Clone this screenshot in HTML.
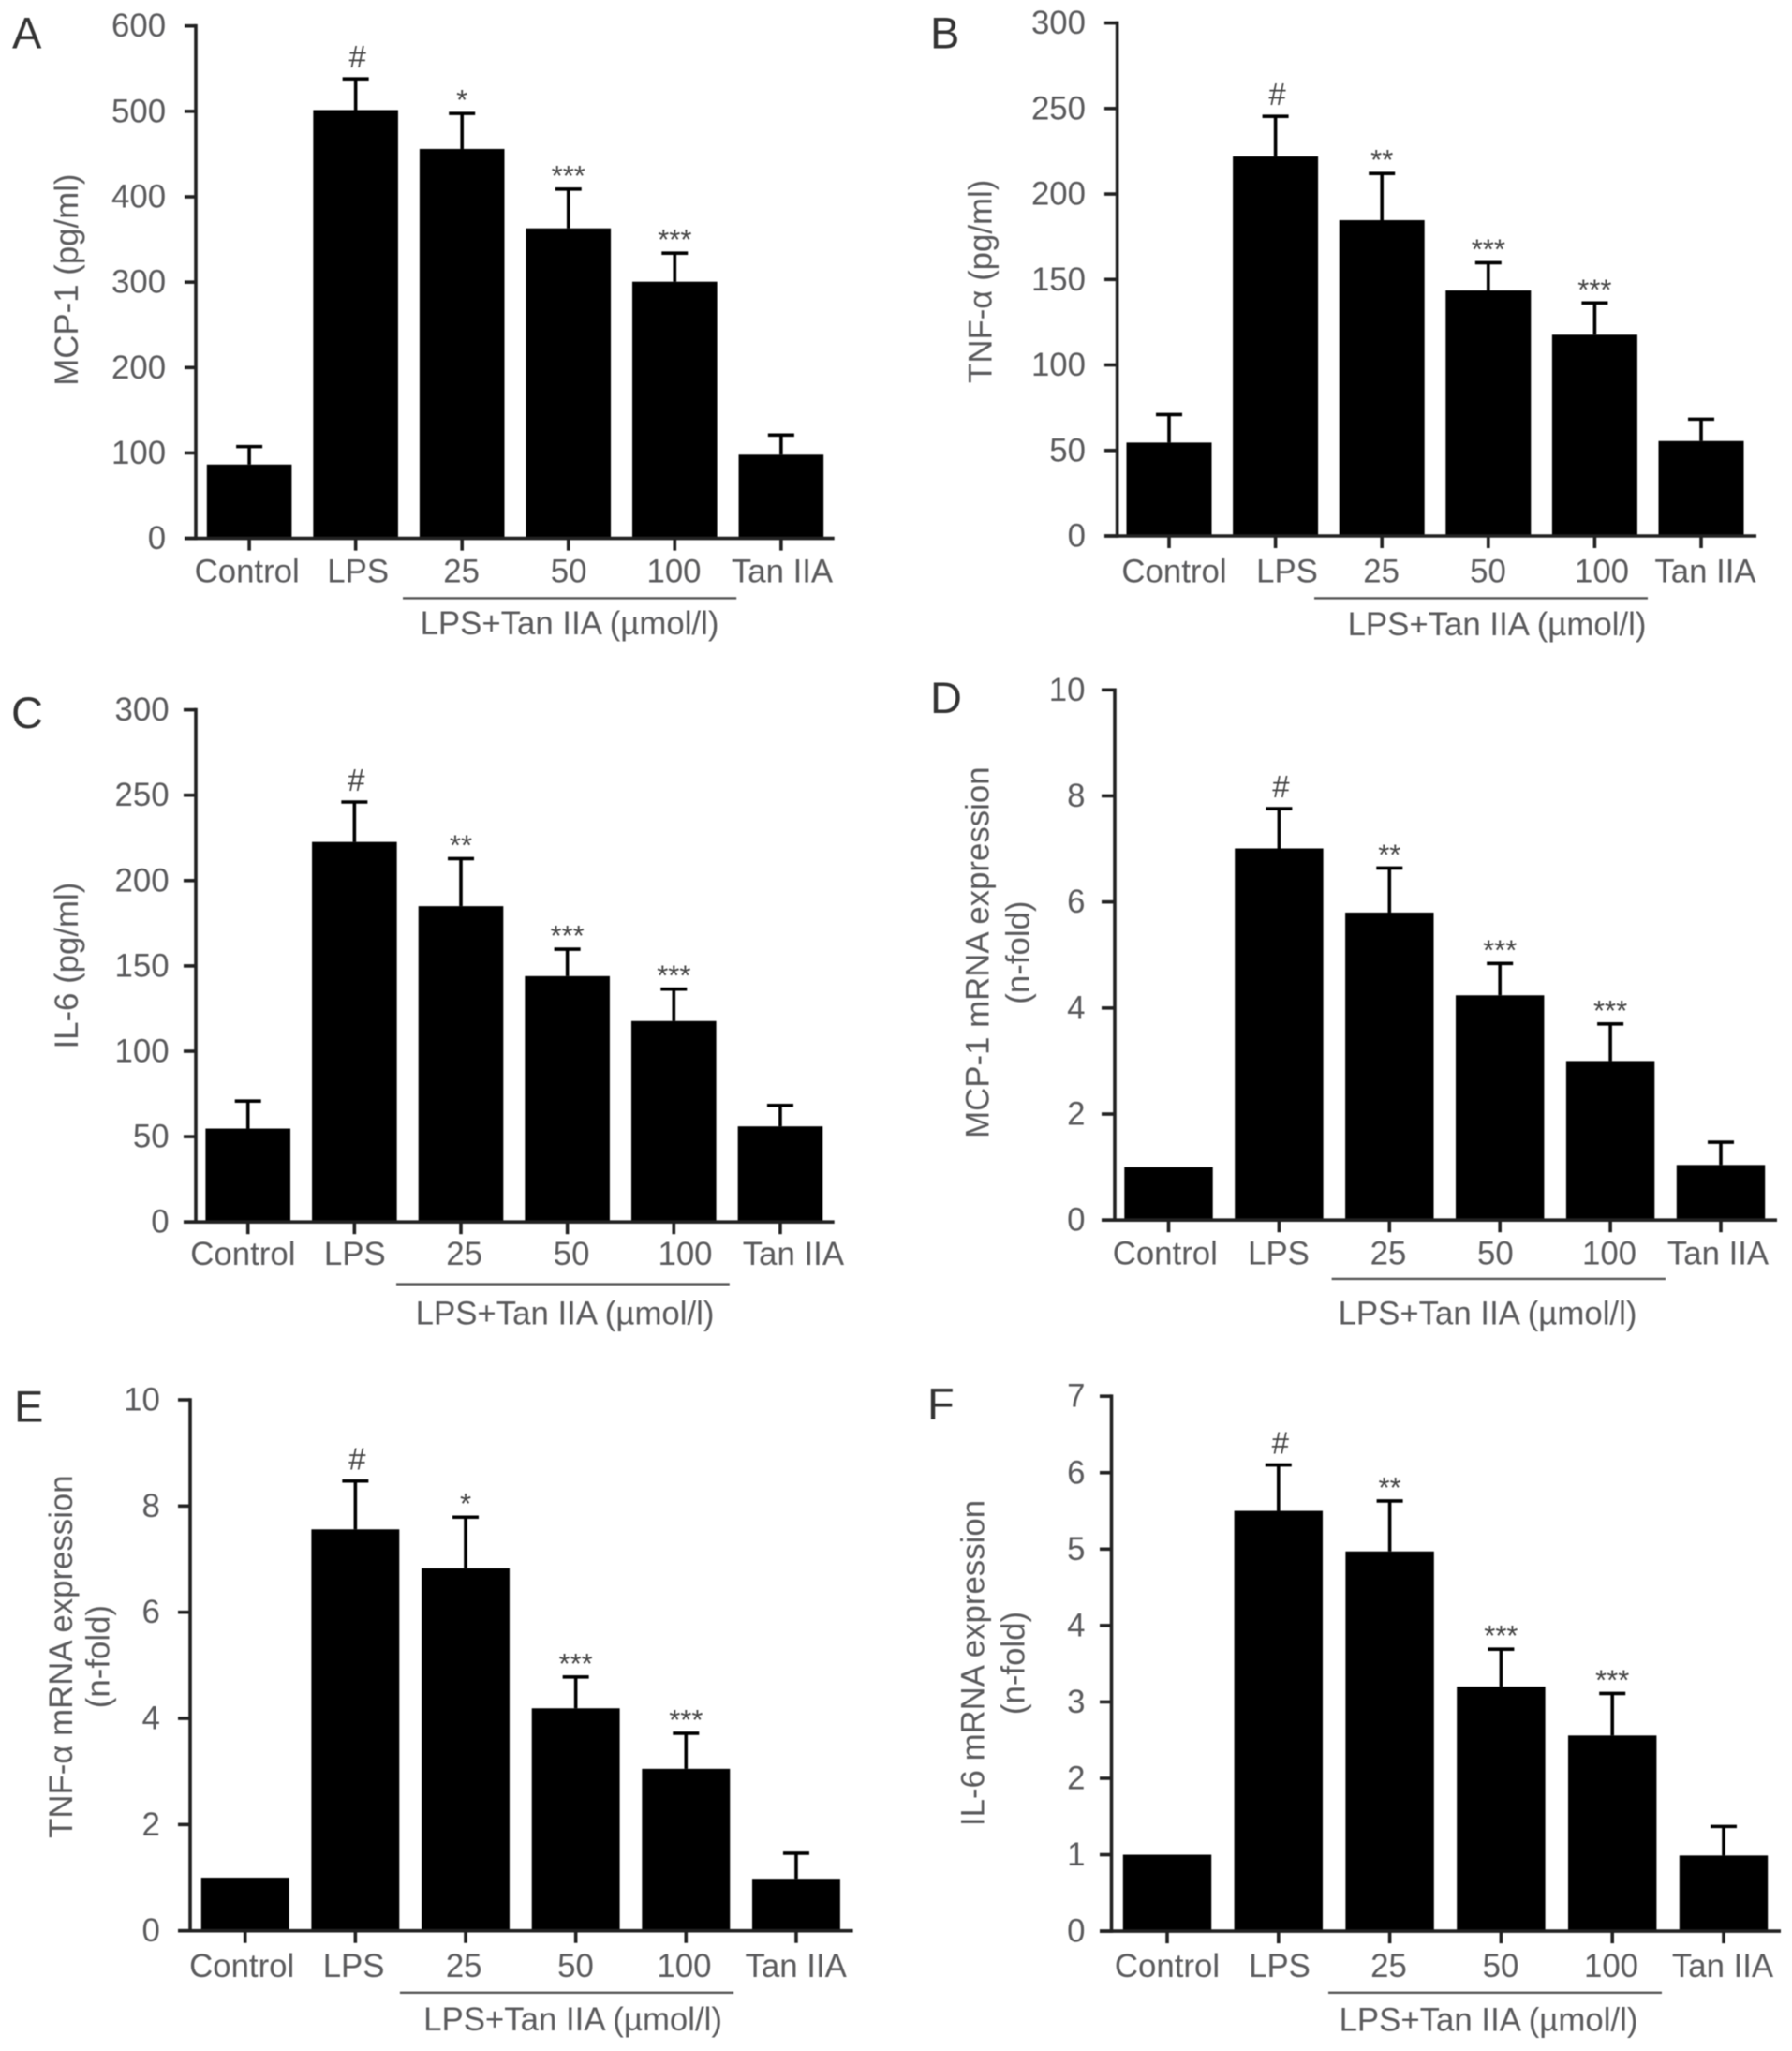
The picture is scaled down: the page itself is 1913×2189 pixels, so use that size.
<!DOCTYPE html>
<html lang="en">
<head>
<meta charset="utf-8">
<title>Cytokine protein and mRNA expression bar charts</title>
<style>
html,body{margin:0;padding:0;background:#fff;}
#figure{display:block;width:1913px;height:2189px;filter:blur(.5px);font-family:"Liberation Sans",sans-serif;}
</style>
</head>
<body>
<svg id="figure" xmlns="http://www.w3.org/2000/svg" width="1913" height="2189" viewBox="0 0 1913 2189"></svg>
<script>
// ---------- shared categories ----------
const categories = ["Control", "LPS", "25", "50", "100", "Tan IIA"];
const groupLabel = "LPS+Tan IIA (\u00B5mol/l)";

// ---------- panel A ----------
const mcp1ProteinMeans = [86.5, 501.5, 456, 363, 300.5, 98];
const mcp1ProteinErrorTops = [107.5, 538, 497.5, 409, 334, 121];
const mcp1ProteinTicks = [0, 100, 200, 300, 400, 500, 600];
const mcp1ProteinMarks = ["", "#", "*", "***", "***", ""];

// ---------- panel B ----------
const tnfProteinMeans = [54.6, 222, 184.7, 143.6, 117.7, 55.5];
const tnfProteinErrorTops = [71, 245.4, 212, 159.8, 136.3, 68.3];
const tnfProteinTicks = [0, 50, 100, 150, 200, 250, 300];
const tnfProteinMarks = ["", "#", "**", "***", "***", ""];

// ---------- panel C ----------
const il6ProteinMeans = [54.7, 222.6, 185, 144, 117.7, 56];
const il6ProteinErrorTops = [70.8, 246, 212.8, 159.8, 136.4, 68.3];
const il6ProteinTicks = [0, 50, 100, 150, 200, 250, 300];
const il6ProteinMarks = ["", "#", "**", "***", "***", ""];

// ---------- panel D ----------
const mcp1MrnaMeans = [1, 7.01, 5.8, 4.24, 3, 1.04];
const mcp1MrnaErrorTops = [1, 7.76, 6.64, 4.84, 3.7, 1.47];
const mcp1MrnaTicks = [0, 2, 4, 6, 8, 10];
const mcp1MrnaMarks = ["", "#", "**", "***", "***", ""];

// ---------- panel E ----------
const tnfMrnaMeans = [1, 7.56, 6.83, 4.19, 3.05, 0.98];
const tnfMrnaErrorTops = [1, 8.47, 7.79, 4.78, 3.72, 1.46];
const tnfMrnaTicks = [0, 2, 4, 6, 8, 10];
const tnfMrnaMarks = ["", "#", "*", "***", "***", ""];

// ---------- panel F ----------
const il6MrnaMeans = [1, 5.5, 4.97, 3.2, 2.56, 0.99];
const il6MrnaErrorTops = [1, 6.1, 5.63, 3.69, 3.11, 1.37];
const il6MrnaTicks = [0, 1, 2, 3, 4, 5, 6, 7];
const il6MrnaMarks = ["", "#", "**", "***", "***", ""];

// ---------- layout (geometry only) ----------
const panels = [
  {id:"a", letter:"A", letterX:13, letterY:51.4, means:mcp1ProteinMeans, tops:mcp1ProteinErrorTops, ticks:mcp1ProteinTicks, marks:mcp1ProteinMarks,
   title:["MCP-1 (pg/ml)"], titleX:[71.7], titleY:298.6,
   axisX:209, plotTop:27.7, plotBottom:574.6, tickLeft:197, plotRight:890.7, tickLabelRight:177.1,
   firstCentre:266.1, step:113.55, barW:90.6, labelCentres:[263.7,382.2,492.6,607.1,719.5,835], labelBase:621.5,
   ruleY:638.4, ruleX1:430, ruleX2:786.2, groupX:608, groupBase:677.2},
  {id:"b", letter:"B", letterX:993, letterY:51.4, means:tnfProteinMeans, tops:tnfProteinErrorTops, ticks:tnfProteinTicks, marks:tnfProteinMarks,
   title:["TNF-\u03B1 (pg/ml)"], titleX:[1047], titleY:300.3,
   axisX:1192.6, plotTop:24.6, plotBottom:572, tickLeft:1179, plotRight:1875, tickLabelRight:1159,
   firstCentre:1248, step:113.6, barW:91, labelCentres:[1253.5,1374,1474.6,1588.5,1710,1820.5], labelBase:621.5,
   ruleY:638.4, ruleX1:1403, ruleX2:1759, groupX:1598, groupBase:678},
  {id:"c", letter:"C", letterX:12, letterY:776.8, means:il6ProteinMeans, tops:il6ProteinErrorTops, ticks:il6ProteinTicks, marks:il6ProteinMarks,
   title:["IL-6 (pg/ml)"], titleX:[71.7], titleY:1030.6,
   axisX:209, plotTop:757.6, plotBottom:1304.2, tickLeft:196, plotRight:890.7, tickLabelRight:180.6,
   firstCentre:264.7, step:113.65, barW:90.6, labelCentres:[259.4,378.8,495.6,610.1,731.5,846.9], labelBase:1350,
   ruleY:1370.6, ruleX1:423, ruleX2:778.8, groupX:603.1, groupBase:1413.4},
  {id:"d", letter:"D", letterX:993, letterY:760.8, means:mcp1MrnaMeans, tops:mcp1MrnaErrorTops, ticks:mcp1MrnaTicks, marks:mcp1MrnaMarks,
   title:["MCP-1 mRNA expression","(n-fold)"], titleX:[1044,1087], titleY:1016.6,
   axisX:1190, plotTop:736.3, plotBottom:1302.2, tickLeft:1176, plotRight:1897, tickLabelRight:1158.5,
   firstCentre:1247.5, step:117.9, barW:94.4, labelCentres:[1243.8,1365,1482,1596.4,1718,1834], labelBase:1349.7,
   ruleY:1364.9, ruleX1:1421.6, ruleX2:1778, groupX:1588, groupBase:1413.7},
  {id:"e", letter:"E", letterX:15, letterY:1517.3, means:tnfMrnaMeans, tops:tnfMrnaErrorTops, ticks:tnfMrnaTicks, marks:tnfMrnaMarks,
   title:["TNF-\u03B1 mRNA expression","(n-fold)"], titleX:[65.5,105], titleY:1768.1,
   axisX:203, plotTop:1494, plotBottom:2060.7, tickLeft:190, plotRight:910.6, tickLabelRight:170.9,
   firstCentre:261.7, step:117.65, barW:93.9, labelCentres:[258.2,377.6,495.2,614.5,730.4,849.7], labelBase:2109.9,
   ruleY:2126.8, ruleX1:426.9, ruleX2:783.2, groupX:611.6, groupBase:2167.1},
  {id:"f", letter:"F", letterX:990, letterY:1514.5, means:il6MrnaMeans, tops:il6MrnaErrorTops, ticks:il6MrnaTicks, marks:il6MrnaMarks,
   title:["IL-6 mRNA expression","(n-fold)"], titleX:[1039,1082], titleY:1775,
   axisX:1186.5, plotTop:1490.2, plotBottom:2061.1, tickLeft:1174, plotRight:1901, tickLabelRight:1158.5,
   firstCentre:1246, step:118.8, barW:94.4, labelCentres:[1246,1366,1482.5,1602,1720,1839], labelBase:2109.9,
   ruleY:2126.8, ruleX1:1418, ruleX2:1774, groupX:1589, groupBase:2167.7}
];

const SVG_NS = "http://www.w3.org/2000/svg";
const TEXT_COLOR = "#5a5a5c";
const LINE_W = 3.6;
const FONT_SIZE = 34.8;
const svg = document.getElementById("figure");

function make(parent, tag, attrs, text) {
  const node = document.createElementNS(SVG_NS, tag);
  for (const key in attrs) node.setAttribute(key, attrs[key]);
  if (text !== undefined) node.textContent = text;
  parent.appendChild(node);
  return node;
}

function drawPanel(p) {
  const domainMax = p.ticks[p.ticks.length - 1];
  const yScale = function (v) { return p.plotBottom - (v / domainMax) * (p.plotBottom - p.plotTop); };
  const xScale = function (i) { return p.firstCentre + i * p.step; };

  const g = make(svg, "g", {});
  
  

  const letter = make(g, "text", {x:p.letterX, y:p.letterY, "font-size":47, fill:"#333"}, p.letter);
  
  

  // bars and error bars
  p.means.forEach(function (mean, i) {
    const cx = xScale(i);
    const bar = make(g, "rect", {x:cx - p.barW / 2, y:yScale(mean), width:p.barW, height:p.plotBottom - yScale(mean), fill:"#000"});
    
    

    const top = p.tops[i];
    if (top > mean) {
      const stem = make(g, "line", {x1:cx, x2:cx, y1:yScale(mean), y2:yScale(top), stroke:"#000", "stroke-width":LINE_W});
      
      
      const cap = make(g, "line", {x1:cx - 14, x2:cx + 14, y1:yScale(top), y2:yScale(top), stroke:"#000", "stroke-width":LINE_W});
      
      
    }

    const mark = p.marks[i];
    if (mark) {
      const isHash = mark === "#";
      const sig = make(g, "text", {x:cx + (isHash ? 2 : 0), y:yScale(top) - (isHash ? 12 : 4), "font-size":isHash ? 33 : 31, "text-anchor":"middle", fill:"#444"}, mark);
      
      
    }

    const tick = make(g, "line", {x1:cx, x2:cx, y1:p.plotBottom, y2:p.plotBottom + 13, stroke:"#222", "stroke-width":LINE_W});
    
    

    const label = make(g, "text", {x:p.labelCentres[i], y:p.labelBase, "font-size":FONT_SIZE, "text-anchor":"middle", fill:TEXT_COLOR}, categories[i]);
    
    
  });

  // axes
  const yAxis = make(g, "line", {x1:p.axisX, x2:p.axisX, y1:p.plotTop - LINE_W / 2, y2:p.plotBottom + LINE_W / 2, stroke:"#222", "stroke-width":LINE_W});
  
  
  const xAxis = make(g, "line", {x1:p.tickLeft, x2:p.plotRight, y1:p.plotBottom, y2:p.plotBottom, stroke:"#222", "stroke-width":LINE_W});
  
  

  p.ticks.forEach(function (value) {
    const y = yScale(value);
    const tick = make(g, "line", {x1:p.tickLeft, x2:p.axisX, y1:y, y2:y, stroke:"#222", "stroke-width":LINE_W});
    
    
    const label = make(g, "text", {x:p.tickLabelRight, y:y + 11.5, "font-size":FONT_SIZE, "text-anchor":"end", fill:TEXT_COLOR}, String(value));
    
    
  });

  // y-axis title (one or two lines)
  p.title.forEach(function (line, i) {
    const x = p.titleX[i];
    const title = make(g, "text", {x:x, y:p.titleY, "font-size":FONT_SIZE, "text-anchor":"middle", "dominant-baseline":"central", fill:TEXT_COLOR, transform:"rotate(-90 " + x + " " + p.titleY + ")"}, line);
    
    
  });

  // treatment group rule and label
  const rule = make(g, "line", {x1:p.ruleX1, x2:p.ruleX2, y1:p.ruleY, y2:p.ruleY, stroke:"#555", "stroke-width":2.4});
  
  
  const group = make(g, "text", {x:p.groupX, y:p.groupBase, "font-size":FONT_SIZE, "text-anchor":"middle", fill:TEXT_COLOR}, groupLabel);
  
  
}

panels.forEach(drawPanel);
</script>
</body>
</html>
